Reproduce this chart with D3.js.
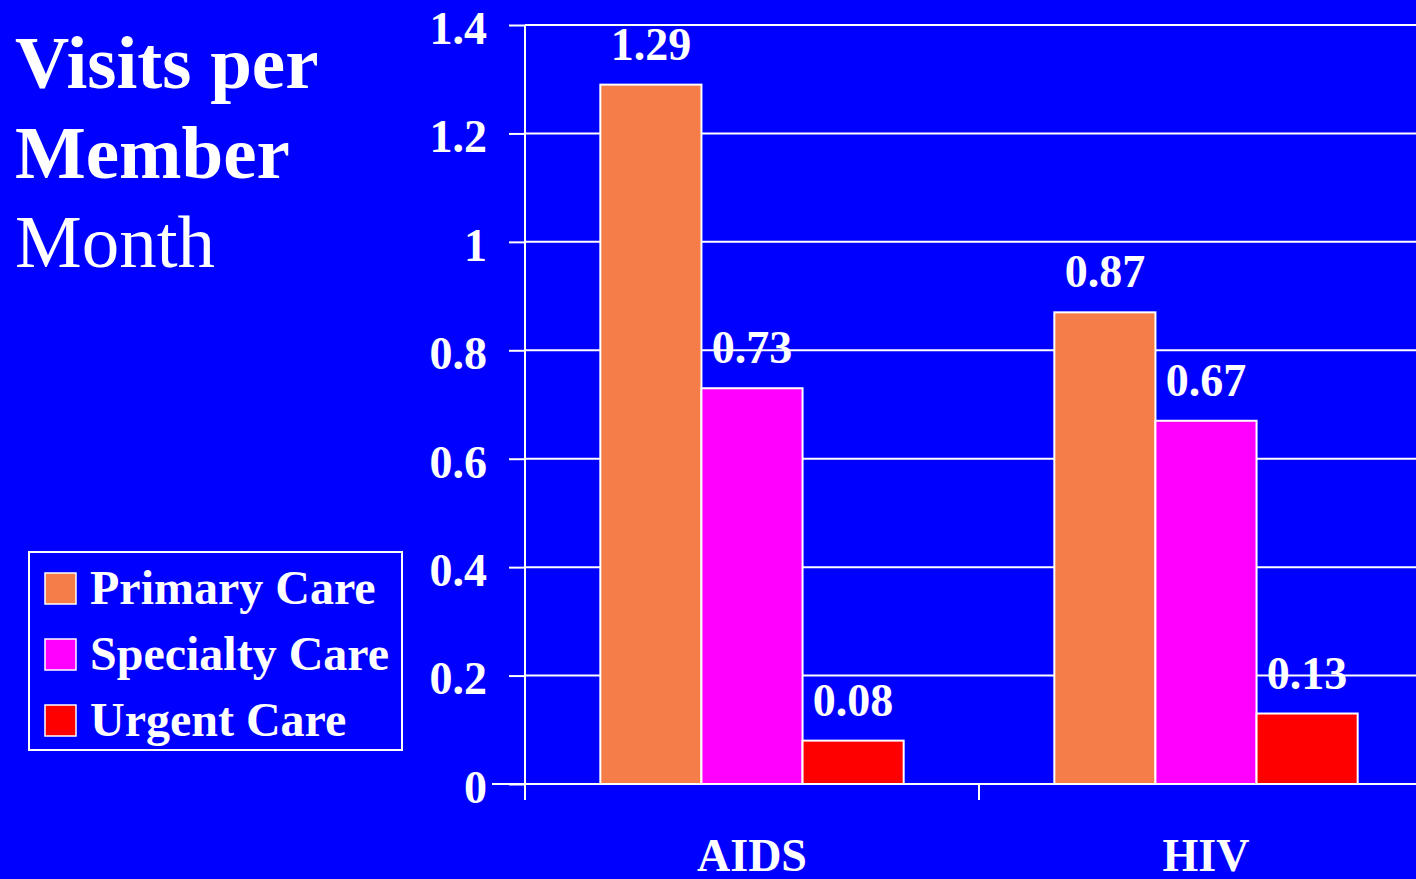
<!DOCTYPE html>
<html>
<head>
<meta charset="utf-8">
<script src="https://cdn.jsdelivr.net/npm/d3@7"></script>
<style>
  html, body { margin: 0; padding: 0; background: #0000ff; overflow: hidden; }
  svg { display: block; }
  text { font-family: "Times New Roman", "Liberation Serif", Times, serif; fill: #fff; }
</style>
</head>
<body>
<svg id="chart" width="1416" height="879"></svg>
<script>
// Visits per member month, by patient group and type of care
const groups = ["AIDS", "HIV"];
const seriesNames = ["Primary Care", "Specialty Care", "Urgent Care"];
const primaryCare = [1.29, 0.87];
const specialtyCare = [0.73, 0.67];
const urgentCare = [0.08, 0.13];
const yTicks = [0, 0.2, 0.4, 0.6, 0.8, 1, 1.2, 1.4];
const seriesColors = ["#f47d4a", "#ff00ff", "#ff0000"];
const titleLines = [["Visits per", "bold"], ["Member", "bold"], ["Month", "normal"]];

const seriesValues = [primaryCare, specialtyCare, urgentCare];
const rows = groups.map((g, gi) => ({
  group: g,
  values: seriesNames.map((s, si) => ({ series: s, value: seriesValues[si][gi], color: seriesColors[si] }))
}));

const W = 1416, H = 879;
const svg = d3.select("#chart");
svg.append("rect").attr("width", W).attr("height", H).attr("fill", "#0000ff");

const axisX = 525, plotBottom = 784, plotTop = 25;
const y = d3.scaleLinear().domain([0, 1.4]).range([plotBottom, plotTop]);
const x0 = d3.scaleBand().domain(groups).range([axisX, 1433]).paddingInner(0).paddingOuter(0);
const x1 = d3.scaleBand().domain(seriesNames).range([0, x0.bandwidth()]).paddingInner(0).paddingOuter(0.745);

// gridlines
svg.append("g")
  .selectAll("line")
  .data(yTicks.filter(d => d > 0))
  .join("line")
  .attr("x1", axisX).attr("x2", W)
  .attr("y1", d => y(d)).attr("y2", d => y(d))
  .attr("stroke", "#fff").attr("stroke-width", 2);

// y axis
const yAxis = svg.append("g")
  .attr("transform", `translate(${axisX},0)`)
  .call(d3.axisLeft(y).tickValues(yTicks).tickSizeInner(16).tickSizeOuter(0).tickPadding(22)
    .tickFormat(d => d3.format("~g")(d)));
yAxis.select(".domain").remove();
yAxis.selectAll(".tick line").attr("stroke", "#fff").attr("stroke-width", 2);
yAxis.selectAll(".tick text")
  .attr("fill", "#fff")
  .attr("font-size", 46).attr("font-weight", "bold")
  .attr("font-family", "'Times New Roman', 'Liberation Serif', serif")
  .attr("dy", "0.4em");
svg.append("line")
  .attr("x1", axisX).attr("x2", axisX).attr("y1", plotTop).attr("y2", plotBottom + 16)
  .attr("stroke", "#fff").attr("stroke-width", 2);

// bars
const gGroups = svg.append("g").selectAll("g")
  .data(rows).join("g")
  .attr("transform", d => `translate(${x0(d.group)},0)`);

gGroups.selectAll("rect")
  .data(d => d.values).join("rect")
  .attr("x", d => x1(d.series))
  .attr("width", x1.bandwidth())
  .attr("y", d => y(d.value))
  .attr("height", d => y(0) - y(d.value))
  .attr("fill", d => d.color)
  .attr("stroke", "#fff").attr("stroke-width", 2);

gGroups.selectAll("text")
  .data(d => d.values).join("text")
  .attr("x", d => x1(d.series) + x1.bandwidth() / 2)
  .attr("y", d => y(d.value) - 25)
  .attr("text-anchor", "middle")
  .attr("font-size", 46).attr("font-weight", "bold")
  .text(d => d3.format(".2f")(d.value));

// x axis
const xAxis = svg.append("g")
  .attr("transform", `translate(0,${plotBottom})`)
  .call(d3.axisBottom(x0).tickSizeInner(0).tickSizeOuter(0).tickPadding(69));
xAxis.select(".domain").remove();
xAxis.selectAll(".tick line").remove();
xAxis.selectAll(".tick text")
  .attr("fill", "#fff")
  .attr("font-size", 46).attr("font-weight", "bold")
  .attr("font-family", "'Times New Roman', 'Liberation Serif', serif")
  .attr("dy", "0.4em");
svg.append("line")
  .attr("x1", 492).attr("x2", W).attr("y1", plotBottom).attr("y2", plotBottom)
  .attr("stroke", "#fff").attr("stroke-width", 2);
svg.append("g").selectAll("line")
  .data(groups.slice(1))
  .join("line")
  .attr("x1", d => x0(d)).attr("x2", d => x0(d))
  .attr("y1", plotBottom).attr("y2", plotBottom + 16)
  .attr("stroke", "#fff").attr("stroke-width", 2);

// title
svg.append("g").selectAll("text")
  .data(titleLines).join("text")
  .attr("x", 15)
  .attr("y", (d, i) => 88 + i * 89.5)
  .attr("font-size", 75)
  .attr("font-weight", d => d[1])
  .text(d => d[0]);

// legend
const legend = svg.append("g");
legend.append("rect")
  .attr("x", 29).attr("y", 552).attr("width", 373).attr("height", 198)
  .attr("fill", "none").attr("stroke", "#fff").attr("stroke-width", 2);
const items = legend.selectAll("g.item")
  .data(seriesNames).join("g")
  .attr("class", "item")
  .attr("transform", (d, i) => `translate(0,${573 + i * 66})`);
items.append("rect")
  .attr("x", 45).attr("y", 0).attr("width", 31).attr("height", 31)
  .attr("fill", (d, i) => seriesColors[i])
  .attr("stroke", "#fff").attr("stroke-width", 1.5);
items.append("text")
  .attr("x", 90).attr("y", 31)
  .attr("font-size", 48).attr("font-weight", "bold")
  .text(d => d);
</script>
</body>
</html>
